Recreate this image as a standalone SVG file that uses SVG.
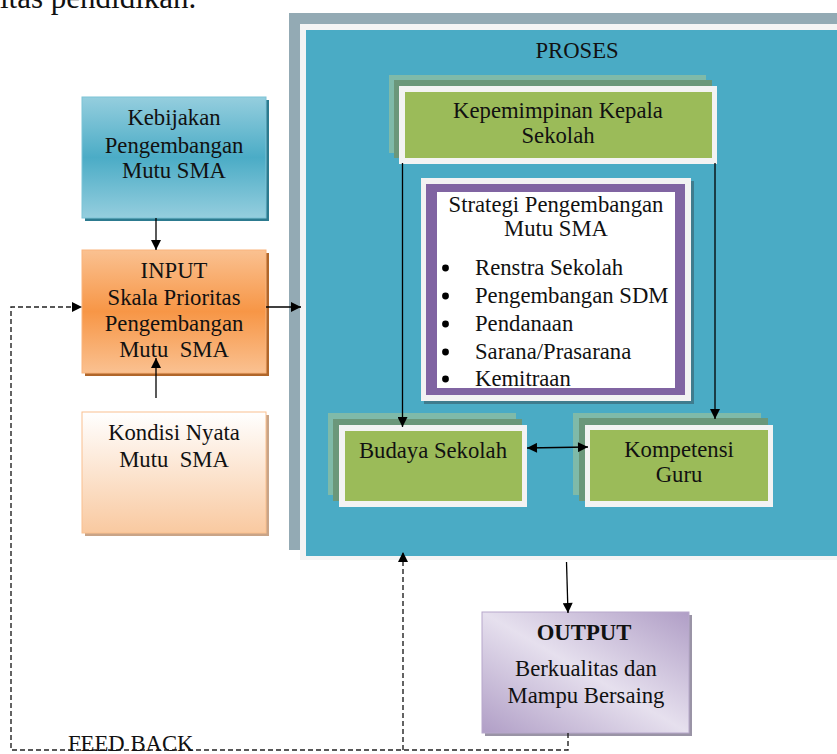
<svg xmlns="http://www.w3.org/2000/svg" width="837" height="754" viewBox="0 0 837 754">
  <style>
    text { font-family: "Liberation Serif", "Times New Roman", serif; font-size: 22.7px; fill: #111; }
    .c { text-anchor: middle; }
    .b { font-weight: bold; }
    .con { stroke: #000; stroke-width: 1.3; fill: none; }
    .dash { stroke: #222; stroke-width: 1.4; fill: none; stroke-dasharray: 5 3; }
    .lite { fill: #7FBAA9; }
    .dark { fill: #6B977A; }
    .rim { fill: #F3F3F3; }
    .green { fill: #9BBB59; }
  </style>
  <defs>
    <linearGradient id="gKeb" x1="0" y1="0" x2="0" y2="1">
      <stop offset="0" stop-color="#95CEDE"/>
      <stop offset="0.5" stop-color="#4BACC6"/>
      <stop offset="1" stop-color="#95CEDE"/>
    </linearGradient>
    <linearGradient id="gInp" x1="0" y1="0" x2="0" y2="1">
      <stop offset="0" stop-color="#FAC191"/>
      <stop offset="0.5" stop-color="#F79646"/>
      <stop offset="1" stop-color="#FAC191"/>
    </linearGradient>
    <linearGradient id="gKon" x1="0" y1="0" x2="0" y2="1">
      <stop offset="0" stop-color="#FFFFFF"/>
      <stop offset="1" stop-color="#F9C9A0"/>
    </linearGradient>
    <linearGradient id="gOut" x1="1" y1="0" x2="0" y2="1">
      <stop offset="0" stop-color="#B09EC6"/>
      <stop offset="0.5" stop-color="#E6E0EE"/>
      <stop offset="1" stop-color="#B09EC6"/>
    </linearGradient>
    <marker id="arr" viewBox="0 0 10 10" refX="10" refY="5" markerWidth="11" markerHeight="10" markerUnits="userSpaceOnUse" orient="auto-start-reverse">
      <path d="M0,0 L10,5 L0,10 Z" fill="#000"/>
    </marker>
  </defs>

  <!-- running text above the figure -->
  <text x="0" y="8" style="font-size:31px">itas pendidikan.</text>

  <!-- PROSES frame -->
  <g id="proses">
    <rect x="289" y="13" width="560" height="537" fill="#93AAB4"/>
    <rect x="300" y="24" width="550" height="536" fill="#F4F4F4"/>
    <rect x="306" y="30" width="540" height="526" fill="#4AABC5"/>
    <text class="c" x="577" y="58">PROSES</text>
  </g>

  <g id="kepemimpinan">
    <rect class="lite" x="389" y="75" width="317" height="78"/>
    <rect class="dark" x="394" y="80" width="318" height="78"/>
    <rect class="rim" x="399" y="86" width="318" height="78"/>
    <rect class="green" x="405" y="92" width="307" height="66"/>
    <text class="c" x="558" y="118">Kepemimpinan Kepala</text>
    <text class="c" x="558" y="143">Sekolah</text>
  </g>

  <g id="strategi">
    <rect x="424" y="181" width="270" height="223" fill="#3F7C8E"/>
    <rect x="421" y="178" width="270" height="223" fill="#F2F2F2"/>
    <rect x="426" y="184" width="259" height="211" fill="#8064A2"/>
    <rect x="437" y="192" width="238" height="196" fill="#FFFFFF"/>
    <text class="c" x="556" y="212">Strategi Pengembangan</text>
    <text class="c" x="556" y="236">Mutu SMA</text>
    <g fill="#000">
      <circle cx="445.5" cy="268" r="3.4"/>
      <circle cx="445.5" cy="296" r="3.4"/>
      <circle cx="445.5" cy="324" r="3.4"/>
      <circle cx="445.5" cy="352" r="3.4"/>
      <circle cx="445.5" cy="379" r="3.4"/>
    </g>
    <text x="475" y="275">Renstra Sekolah</text>
    <text x="475" y="303">Pengembangan SDM</text>
    <text x="475" y="331">Pendanaan</text>
    <text x="475" y="359">Sarana/Prasarana</text>
    <text x="475" y="386">Kemitraan</text>
  </g>

  <g id="budaya">
    <rect class="lite" x="328" y="413" width="188" height="82"/>
    <rect class="dark" x="333" y="419" width="189" height="82"/>
    <rect class="rim" x="339" y="425" width="188" height="82"/>
    <rect class="green" x="345" y="431" width="177" height="70"/>
    <text class="c" x="433" y="458">Budaya Sekolah</text>
  </g>

  <g id="kompetensi">
    <rect class="lite" x="573" y="413" width="188" height="82"/>
    <rect class="dark" x="579" y="418" width="189" height="83"/>
    <rect class="rim" x="585" y="425" width="188" height="82"/>
    <rect class="green" x="590" y="430" width="178" height="71"/>
    <text class="c" x="679" y="457">Kompetensi</text>
    <text class="c" x="679" y="482">Guru</text>
  </g>

  <g id="kebijakan">
    <rect x="85" y="100" width="184" height="121" fill="#2C7A8F"/>
    <rect x="82" y="97" width="184" height="121" fill="url(#gKeb)" stroke="#7CC3D6" stroke-width="1"/>
    <text class="c" x="174" y="125">Kebijakan</text>
    <text class="c" x="174" y="153">Pengembangan</text>
    <text class="c" x="174" y="178">Mutu SMA</text>
  </g>

  <g id="input">
    <rect x="85" y="253" width="184" height="123" fill="#B0662A"/>
    <rect x="82" y="250" width="184" height="123" fill="url(#gInp)" stroke="#F9B47C" stroke-width="1"/>
    <text class="c" x="174" y="278">INPUT</text>
    <text class="c" x="174" y="305">Skala Prioritas</text>
    <text class="c" x="174" y="331">Pengembangan</text>
    <text class="c" x="174" y="357" xml:space="preserve">Mutu  SMA</text>
  </g>

  <g id="kondisi">
    <rect x="85" y="415" width="184" height="121" fill="#C9A487"/>
    <rect x="82" y="412" width="184" height="121" fill="url(#gKon)" stroke="#FAC08F" stroke-width="1"/>
    <text class="c" x="174" y="440">Kondisi Nyata</text>
    <text class="c" x="174" y="467" xml:space="preserve">Mutu  SMA</text>
  </g>

  <g id="output">
    <rect x="485" y="615" width="207" height="121" fill="#9A94A6"/>
    <rect x="482" y="612" width="207" height="121" fill="url(#gOut)" stroke="#B7A8CB" stroke-width="1"/>
    <text class="c b" x="584" y="640">OUTPUT</text>
    <text class="c" x="586" y="676">Berkualitas dan</text>
    <text class="c" x="586" y="703">Mampu Bersaing</text>
  </g>

  <!-- connectors -->
  <g id="connectors">
    <line class="con" x1="156" y1="218" x2="156" y2="250" marker-end="url(#arr)"/>
    <line class="con" x1="156" y1="398" x2="156" y2="358" marker-end="url(#arr)"/>
    <line class="con" x1="266" y1="307" x2="301" y2="307" marker-end="url(#arr)"/>
    <line class="con" x1="402.5" y1="163" x2="402.5" y2="427" marker-end="url(#arr)"/>
    <line class="con" x1="715" y1="163" x2="715" y2="419" marker-end="url(#arr)"/>
    <line class="con" x1="527" y1="448" x2="588" y2="447" marker-start="url(#arr)" marker-end="url(#arr)"/>
    <line class="con" x1="566.5" y1="562" x2="568" y2="613" marker-end="url(#arr)"/>
    <path class="dash" d="M568,733 V750 H11 V307 H82" marker-end="url(#arr)"/>
    <line class="dash" x1="403" y1="750" x2="403" y2="552" marker-end="url(#arr)"/>
    <text x="68" y="751">FEED BACK</text>
  </g>
</svg>
